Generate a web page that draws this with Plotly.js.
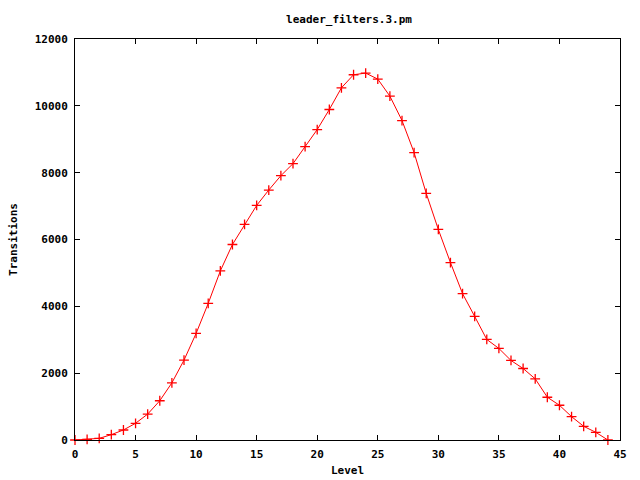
<!DOCTYPE html>
<html>
<head>
<meta charset="utf-8">
<script src="https://cdn.plot.ly/plotly-3.0.1.min.js"></script>
<style>html,body{margin:0;padding:0;background:#fff;}#chart{width:640px;height:480px;}</style>
</head>
<body>
<div id="chart"></div>
<script>
const levels = [0,1,2,3,4,5,6,7,8,9,10,11,12,13,14,15,16,17,18,19,20,21,22,23,24,25,26,27,28,29,30,31,32,33,34,35,36,37,38,39,40,41,42,43,44];
const transitions = [0,20,50,160,300,500,775,1175,1710,2390,3190,4090,5060,5850,6450,7020,7480,7910,8270,8780,9290,9890,10540,10930,10980,10800,10290,9560,8600,7380,6300,5310,4380,3700,3010,2740,2380,2140,1830,1280,1040,700,410,230,0];
const xTicks = [0,5,10,15,20,25,30,35,40,45];
const yTicks = [0,2000,4000,6000,8000,10000,12000];
const chartTitle = 'leader_filters.3.pm';
const xTitle = 'Level';
const yTitle = 'Transitions';

const font = {family: 'DejaVu Sans Mono, Liberation Mono, monospace', size: 11, color: '#000', weight: 'bold'};

const trace = {
  x: levels, y: transitions, type: 'scatter', mode: 'lines+markers',
  line: {color: '#ff0000', width: 1},
  marker: {symbol: 'cross-thin', size: 7, line: {color: '#ff0000', width: 1.3}, color: '#ff0000'},
  cliponaxis: false, showlegend: false
};

const axisCommon = {
  showline: true, linecolor: '#000', linewidth: 1, mirror: 'ticks',
  ticks: 'inside', ticklen: 5, tickcolor: '#000', tickwidth: 1,
  showgrid: false, zeroline: false, tickfont: font
};

const layout = {
  width: 640, height: 480,
  margin: {l: 75, r: 20, t: 39, b: 40},
  paper_bgcolor: '#fff', plot_bgcolor: '#fff',
  font: font,
  title: {text: chartTitle, font: font, x: 0.5453, xanchor: 'center', xref: 'container', y: 1 - 19/480, yanchor: 'middle', yref: 'container'},
  xaxis: Object.assign({}, axisCommon, {
    range: [0, 45], tickvals: xTicks, ticktext: xTicks.map(String),
    title: {text: xTitle, font: font, standoff: 6}, ticklabelstandoff: 4
  }),
  yaxis: Object.assign({}, axisCommon, {
    range: [0, 12000], tickvals: yTicks, ticktext: yTicks.map(String),
    title: {text: yTitle, font: font, standoff: 14}, ticklabelstandoff: 4
  })
};

Plotly.newPlot('chart', [trace], layout, {displayModeBar: false, staticPlot: true});
</script>
</body>
</html>
